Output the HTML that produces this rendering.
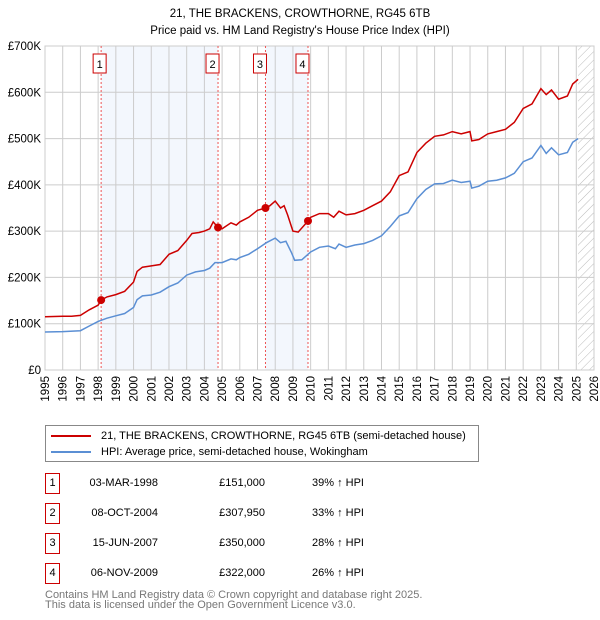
<!DOCTYPE html>
<html><head><meta charset="utf-8"><style>
body{margin:0;background:#fff;font-family:"Liberation Sans","DejaVu Sans",sans-serif;}
#wrap{position:relative;width:600px;height:620px;overflow:hidden}
.t{position:absolute;font-size:11px;color:#000;white-space:nowrap}
.box{position:absolute;width:13px;height:19px;border:1px solid #c00;font-size:11px;text-align:center;line-height:19px}
</style></head><body><div id="wrap">
<svg id="svg" width="600" height="420" style="position:absolute;left:0;top:0"></svg>
<div style="position:absolute;left:45px;top:425px;width:432px;height:35px;border:1px solid #888">
 <div style="position:absolute;left:5px;top:4px;font-size:11px;white-space:nowrap"><span style="display:inline-block;width:40px;height:2px;background:#c00;vertical-align:middle;margin-right:10px"></span>21, THE BRACKENS, CROWTHORNE, RG45 6TB (semi-detached house)</div>
 <div style="position:absolute;left:5px;top:20px;font-size:11px;white-space:nowrap"><span style="display:inline-block;width:40px;height:2px;background:#5b8fd4;vertical-align:middle;margin-right:10px"></span>HPI: Average price, semi-detached house, Wokingham</div>
</div>
<div id="tbl"></div>
<div class="t" style="left:45px;top:590px;color:#777;line-height:10px">Contains HM Land Registry data © Crown copyright and database right 2025.<br>This data is licensed under the Open Government Licence v3.0.</div>
</div>
<script>
const yTicks=[0,100,200,300,400,500,600,700];
const years=[1995,1996,1997,1998,1999,2000,2001,2002,2003,2004,2005,2006,2007,2008,2009,2010,2011,2012,2013,2014,2015,2016,2017,2018,2019,2020,2021,2022,2023,2024,2025,2026];
const redT=[1995,1996,1996.5,1997,1997.5,1998,1998.17,1998.5,1999,1999.5,2000,2000.2,2000.5,2001,2001.5,2002,2002.5,2003,2003.3,2003.7,2004,2004.3,2004.5,2004.77,2005,2005.5,2005.8,2006,2006.5,2007,2007.45,2007.7,2008,2008.3,2008.5,2008.7,2009,2009.3,2009.85,2010,2010.5,2011,2011.3,2011.6,2012,2012.5,2013,2013.5,2014,2014.5,2015,2015.5,2016,2016.5,2017,2017.5,2018,2018.5,2019,2019.1,2019.5,2020,2020.5,2021,2021.5,2022,2022.5,2023,2023.3,2023.6,2024,2024.5,2024.8,2025.1];
const redV=[115,116,116,118,130,140,151,158,163,170,190,213,222,225,228,250,258,280,295,297,300,305,320,308,305,318,313,320,330,345,350,355,365,350,355,335,300,298,322,330,338,338,330,343,335,338,345,355,365,385,420,428,470,490,505,508,515,510,515,495,498,510,515,520,535,565,575,608,595,605,585,592,618,628];
const hpiT=[1995,1996,1997,1997.5,1998,1998.5,1999,1999.5,2000,2000.2,2000.5,2001,2001.5,2002,2002.5,2003,2003.5,2004,2004.3,2004.6,2005,2005.5,2005.8,2006,2006.5,2007,2007.5,2008,2008.3,2008.6,2008.9,2009.1,2009.5,2010,2010.5,2011,2011.4,2011.6,2012,2012.5,2013,2013.5,2014,2014.5,2015,2015.5,2016,2016.5,2017,2017.5,2018,2018.5,2019,2019.1,2019.5,2020,2020.5,2021,2021.5,2022,2022.5,2023,2023.3,2023.6,2024,2024.5,2024.8,2025.1];
const hpiV=[82,83,85,95,105,112,117,122,135,152,160,162,168,180,188,205,212,215,220,232,232,240,238,243,250,262,275,285,275,278,255,237,238,255,265,268,262,272,265,270,273,280,290,310,333,340,370,390,402,403,410,405,408,393,397,408,410,415,425,450,458,485,468,480,465,470,492,500];
const saleT=[1998.17,2004.77,2007.45,2009.85];
const saleV=[151,307.95,350,322];
const saleLabels=["1","2","3","4"];
const saleDates=["03-MAR-1998","08-OCT-2004","15-JUN-2007","06-NOV-2009"];
const salePrices=["£151,000","£307,950","£350,000","£322,000"];
const saleHpi=["39% ↑ HPI","33% ↑ HPI","28% ↑ HPI","26% ↑ HPI"];
const L=45,R=594,T=46,B=370;
const x=t=>L+(t-1995)/31*(R-L), y=v=>B-v/700*(B-T);
const svg=document.getElementById('svg'),NS='http://www.w3.org/2000/svg';
function mk(tag,a,p){const e=document.createElementNS(NS,tag);for(const k in a)e.setAttribute(k,a[k]);(p||svg).appendChild(e);return e;}
let d=mk('defs',{});let pat=mk('pattern',{id:'h',width:6,height:6,patternUnits:'userSpaceOnUse',patternTransform:'rotate(45)'},d);mk('line',{x1:0,y1:0,x2:0,y2:6,stroke:'#bbb','stroke-width':1},pat);
let t0=mk('text',{x:300,y:17,'text-anchor':'middle','font-size':11.5});t0.textContent='21, THE BRACKENS, CROWTHORNE, RG45 6TB';
let t1=mk('text',{x:300,y:34,'text-anchor':'middle','font-size':11.5});t1.textContent="Price paid vs. HM Land Registry's House Price Index (HPI)";
[[0,1],[2,3]].forEach(([a,b])=>{let r=mk('rect',{x:x(saleT[a]),y:T,width:x(saleT[b])-x(saleT[a]),height:B-T,fill:'#eef3fc',opacity:0.7});});
let hr=mk('rect',{x:x(2025.1),y:T,width:R-x(2025.1),height:B-T,fill:'url(#h)'});
years.forEach(yr=>{mk('line',{x1:x(yr),y1:T,x2:x(yr),y2:B,stroke:'#ccc'});let tx=mk('text',{x:0,y:0,'font-size':11.5,'text-anchor':'end',transform:`translate(${x(yr)+4},${B+6}) rotate(-90)`});tx.textContent=yr;});
yTicks.forEach(v=>{mk('line',{x1:L,y1:y(v),x2:R,y2:y(v),stroke:'#ccc'});let tx=mk('text',{x:L-4,y:y(v)+4,'font-size':11.5,'text-anchor':'end'});tx.textContent=v?'£'+v+'K':'£0';});
mk('rect',{x:L,y:T,width:R-L,height:B-T,fill:'none',stroke:'#ccc'});
saleT.forEach((t,i)=>{mk('line',{x1:x(t),y1:T,x2:x(t),y2:B,stroke:'#e55','stroke-dasharray':'2,2'});let bx=x(t)-(i==0?2:6);let g=mk('g',{});mk('rect',{x:bx-6,y:54,width:13,height:19,fill:'#fff',stroke:'#c00'},g);let tx=mk('text',{x:bx+0.5,y:68,'font-size':11,'text-anchor':'middle'},g);tx.textContent=saleLabels[i];});
const pts=(ts,vs)=>ts.map((t,i)=>x(t).toFixed(1)+','+y(vs[i]).toFixed(1)).join(' ');
let ph=mk('polyline',{points:pts(hpiT,hpiV),fill:'none',stroke:'#5b8fd4','stroke-width':1.5});
let pr=mk('polyline',{points:pts(redT,redV),fill:'none',stroke:'#c00','stroke-width':1.5});
saleT.forEach((t,i)=>{let c=mk('circle',{cx:x(t),cy:y(saleV[i]),r:4,fill:'#c00'});});
const tbl=document.getElementById('tbl');
saleLabels.forEach((s,i)=>{const top=473+i*30;
 let b=document.createElement('div');b.className='box';b.style.left='45px';b.style.top=top+'px';b.textContent=s;tbl.appendChild(b);
 [[saleDates[i],158,'right','sale-date'],[salePrices[i],265,'right','sale-price'],[saleHpi[i],312,'left','sale-hpi-diff']].forEach(([txt,px,al,nm])=>{let e=document.createElement('div');e.className='t';e.style.top=(top+4)+'px';if(al=='right'){e.style.right=(600-px)+'px';}else e.style.left=px+'px';e.textContent=txt;tbl.appendChild(e);});
});
</script></body></html>
